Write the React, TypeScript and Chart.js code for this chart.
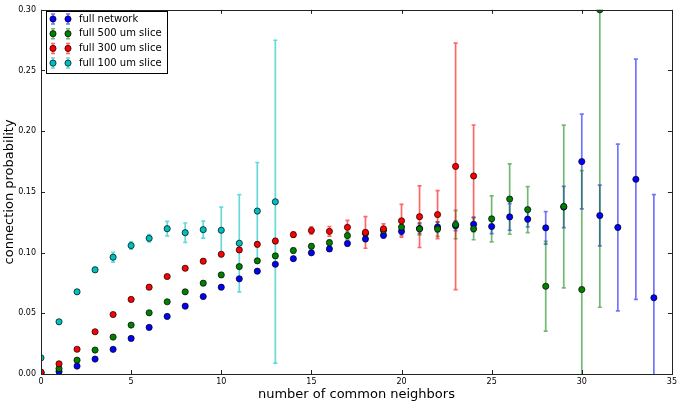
import { useEffect, useRef } from 'react';
import { Chart, registerables } from 'chart.js';

Chart.register(...registerables);

// number of common neighbors
const NEIGHBORS = [
  0, 1, 2, 3, 4, 5, 6, 7, 8, 9, 10, 11, 12, 13, 14, 15, 16, 17,
  18, 19, 20, 21, 22, 23, 24, 25, 26, 27, 28, 29, 30, 31, 32, 33, 34,
];
const X_TICKS = [0, 5, 10, 15, 20, 25, 30, 35];
const Y_TICKS = [0, 0.05, 0.1, 0.15, 0.2, 0.25, 0.3];

// full network
const NETWORK_MEAN = [
  0.001, 0.002, 0.0065, 0.0123, 0.0203, 0.0293, 0.0384, 0.0474, 0.0559, 0.0638,
  0.0715, 0.0784, 0.0847, 0.0904, 0.095, 0.0998, 0.103, 0.1075, 0.1112, 0.1142,
  0.1175, 0.1198, 0.1211, 0.1221, 0.1233, 0.1215, 0.1294, 0.1275, 0.1204, 0.1375,
  0.175, 0.1305, 0.1207, 0.1604, 0.0628,
];
const NETWORK_ERR = [
  0.001, 0.001, 0.001, 0.001, 0.001, 0.001, 0.001, 0.001, 0.001, 0.001,
  0.001, 0.001, 0.001, 0.001, 0.001, 0.001, 0.0015, 0.002, 0.002, 0.002,
  0.003, 0.004, 0.004, 0.004, 0.006, 0.0058, 0.011, 0.0064, 0.0134, 0.017,
  0.039, 0.025, 0.0687, 0.099, 0.085,
];

// full 500 um slice
const SLICE500_MEAN = [
  0.001, 0.0044, 0.0114, 0.0197, 0.0304, 0.0403, 0.0504, 0.0595, 0.0677, 0.0748,
  0.0816, 0.0885, 0.0932, 0.0973, 0.1017, 0.1052, 0.1082, 0.114, 0.1158, 0.1182,
  0.121, 0.1196, 0.1194, 0.1231, 0.1196, 0.1278, 0.1441, 0.1354, 0.0723, 0.138,
  0.0696, 0.3,
];
const SLICE500_ERR = [
  0.001, 0.001, 0.001, 0.001, 0.001, 0.001, 0.001, 0.001, 0.001, 0.001,
  0.001, 0.0015, 0.0015, 0.0015, 0.002, 0.002, 0.002, 0.003, 0.003, 0.003,
  0.004, 0.005, 0.006, 0.0117, 0.009, 0.019, 0.029, 0.019, 0.037, 0.067,
  0.098, 0.245,
];

// full 300 um slice
const SLICE300_MEAN = [
  0.0016, 0.0084, 0.0204, 0.0348, 0.049, 0.0614, 0.0715, 0.0803, 0.0871, 0.0929,
  0.0986, 0.1022, 0.1068, 0.1095, 0.1148, 0.1182, 0.1175, 0.1208, 0.1166, 0.1196,
  0.1262, 0.1296, 0.1313, 0.171, 0.1631,
];
const SLICE300_ERR = [
  0.001, 0.001, 0.001, 0.001, 0.001, 0.001, 0.001, 0.001, 0.0015, 0.0015,
  0.0015, 0.0015, 0.002, 0.002, 0.002, 0.003, 0.004, 0.0057, 0.013, 0.004,
  0.0135, 0.0254, 0.0198, 0.1015, 0.042,
];

// full 100 um slice
const SLICE100_MEAN = [
  0.0133, 0.043, 0.0677, 0.0858, 0.0962, 0.1058, 0.1118, 0.1197, 0.1164, 0.1189,
  0.1184, 0.1077, 0.1342, 0.1419,
];
const SLICE100_ERR = [
  0.001, 0.001, 0.0015, 0.002, 0.004, 0.003, 0.003, 0.006, 0.008, 0.007,
  0.019, 0.04, 0.04, 0.133,
];

const SERIES = [
  { label: 'full network', mean: NETWORK_MEAN, err: NETWORK_ERR, color: '#0000ff', bar: 'rgba(0,0,255,0.55)' },
  { label: 'full 500 um slice', mean: SLICE500_MEAN, err: SLICE500_ERR, color: '#008000', bar: 'rgba(0,128,0,0.55)' },
  { label: 'full 300 um slice', mean: SLICE300_MEAN, err: SLICE300_ERR, color: '#ff0000', bar: 'rgba(255,0,0,0.6)' },
  { label: 'full 100 um slice', mean: SLICE100_MEAN, err: SLICE100_ERR, color: '#00bfbf', bar: 'rgba(0,191,191,0.6)' },
];

const FONT = "'DejaVu Sans'";
const CAP = 2;

// vertical error bars, drawn under the markers
const errorBars = {
  id: 'errorBars',
  beforeDatasetsDraw(chart: any) {
    const { ctx, chartArea: a, scales } = chart;
    const xs = scales.x;
    const ys = scales.y;
    ctx.save();
    ctx.beginPath();
    ctx.rect(a.left, a.top, a.right - a.left, a.bottom - a.top);
    ctx.clip();
    ctx.lineWidth = 1.7;
    SERIES.forEach((s) => {
      ctx.strokeStyle = s.bar;
      ctx.beginPath();
      s.mean.forEach((m, i) => {
        const px = xs.getPixelForValue(NEIGHBORS[i]);
        const top = ys.getPixelForValue(m + s.err[i]);
        const bot = ys.getPixelForValue(m - s.err[i]);
        ctx.moveTo(px, top);
        ctx.lineTo(px, bot);
        ctx.moveTo(px - CAP, top);
        ctx.lineTo(px + CAP, top);
        ctx.moveTo(px - CAP, bot);
        ctx.lineTo(px + CAP, bot);
      });
      ctx.stroke();
    });
    ctx.restore();
  },
};

// box frame with inward ticks on all four sides
const frame = {
  id: 'frame',
  afterDatasetsDraw(chart: any) {
    const { ctx, chartArea: a, scales } = chart;
    ctx.save();
    ctx.strokeStyle = '#222';
    ctx.lineWidth = 1;
    ctx.beginPath();
    scales.x.ticks.forEach((t: any) => {
      const px = Math.round(scales.x.getPixelForValue(t.value)) + 0.5;
      ctx.moveTo(px, a.bottom);
      ctx.lineTo(px, a.bottom - 4);
      ctx.moveTo(px, a.top);
      ctx.lineTo(px, a.top + 4);
    });
    scales.y.ticks.forEach((t: any) => {
      const py = Math.round(scales.y.getPixelForValue(t.value)) + 0.5;
      ctx.moveTo(a.left, py);
      ctx.lineTo(a.left + 4, py);
      ctx.moveTo(a.right, py);
      ctx.lineTo(a.right - 4, py);
    });
    ctx.stroke();
    ctx.strokeRect(Math.round(a.left) + 0.5, Math.round(a.top) + 0.5,
      Math.round(a.right - a.left), Math.round(a.bottom - a.top));
    ctx.restore();
  },
};

// matplotlib-style legend: two errorbar markers per entry
const legendBox = {
  id: 'legendBox',
  afterDraw(chart: any) {
    const { ctx } = chart;
    ctx.save();
    ctx.fillStyle = '#fff';
    ctx.strokeStyle = '#000';
    ctx.lineWidth = 1;
    ctx.fillRect(46.5, 11.5, 121, 62);
    ctx.strokeRect(46.5, 11.5, 121, 62);
    SERIES.forEach((s, k) => {
      const cy = 19 + k * 14.7;
      [53, 68].forEach((cx) => {
        ctx.strokeStyle = s.bar;
        ctx.lineWidth = 1.5;
        ctx.beginPath();
        ctx.moveTo(cx, cy - 5);
        ctx.lineTo(cx, cy + 5);
        ctx.moveTo(cx - CAP, cy - 5);
        ctx.lineTo(cx + CAP, cy - 5);
        ctx.moveTo(cx - CAP, cy + 5);
        ctx.lineTo(cx + CAP, cy + 5);
        ctx.stroke();
        ctx.beginPath();
        ctx.arc(cx, cy, 3.1, 0, Math.PI * 2);
        ctx.fillStyle = s.color;
        ctx.fill();
        ctx.strokeStyle = '#000';
        ctx.lineWidth = 0.7;
        ctx.stroke();
      });
      ctx.fillStyle = '#000';
      ctx.font = `10px ${FONT}`;
      ctx.textBaseline = 'middle';
      ctx.textAlign = 'left';
      ctx.fillText(s.label, 79, cy);
    });
    ctx.restore();
  },
};

export default function App() {
  const canvasRef = useRef<HTMLCanvasElement | null>(null);
  const chartRef = useRef<Chart | null>(null);

  useEffect(() => {
    if (!canvasRef.current) return;
    if (chartRef.current) chartRef.current.destroy();

    const TICK = { color: '#000', font: { family: FONT, size: 8 } };

    chartRef.current = new Chart(canvasRef.current, {
      type: 'scatter',
      data: {
        datasets: SERIES.map((s, k) => ({
          label: s.label,
          data: s.mean.map((m, i) => ({ x: NEIGHBORS[i], y: m })),
          backgroundColor: s.color,
          borderColor: '#000',
          borderWidth: 0.7,
          pointRadius: 3.1,
          order: SERIES.length - k,
          clip: 0,
        })),
      },
      options: {
        animation: false,
        responsive: true,
        maintainAspectRatio: false,
        events: [],
        layout: { padding: { top: 6, right: 6.5, left: 0, bottom: 0 } },
        scales: {
          x: {
            type: 'linear',
            min: 0,
            max: 35,
            afterBuildTicks: (s: any) => {
              s.ticks = X_TICKS.map((v) => ({ value: v }));
            },
            afterFit: (s: any) => {
              s.height = 29;
            },
            ticks: { ...TICK, padding: 3, maxRotation: 0, callback: (v: any) => String(v) },
            grid: { display: false, drawTicks: false },
            border: { display: false },
            title: {
              display: true,
              text: 'number of common neighbors',
              color: '#000',
              font: { family: FONT, size: 13 },
              padding: { top: 0, bottom: 1 },
            },
          },
          y: {
            type: 'linear',
            min: 0,
            max: 0.3,
            afterBuildTicks: (s: any) => {
              s.ticks = Y_TICKS.map((v) => ({ value: v }));
            },
            afterFit: (s: any) => {
              s.width = 41;
            },
            ticks: { ...TICK, padding: 5, callback: (v: any) => Number(v).toFixed(2) },
            grid: { display: false, drawTicks: false },
            border: { display: false },
            title: {
              display: true,
              text: 'connection probability',
              color: '#000',
              font: { family: FONT, size: 13 },
              padding: { top: 2, bottom: 0 },
            },
          },
        },
        plugins: {
          legend: { display: false },
          tooltip: { enabled: false },
        },
      },
      plugins: [errorBars, frame, legendBox],
    });

    return () => {
      if (chartRef.current) {
        chartRef.current.destroy();
        chartRef.current = null;
      }
    };
  }, []);

  return (
    <div style={{ position: 'fixed', left: 0, top: 0, width: 680, height: 403, background: '#fff' }}>
      <canvas ref={canvasRef} aria-label="connection probability vs number of common neighbors" />
    </div>
  );
}
